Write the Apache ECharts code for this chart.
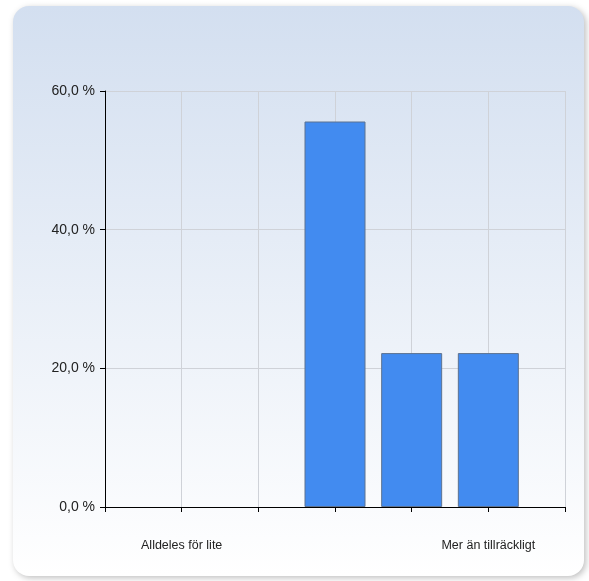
<!DOCTYPE html>
<html>
<head>
<meta charset="utf-8">
<script src="https://cdn.jsdelivr.net/npm/echarts@6/dist/echarts.min.js"></script>
<style>
html,body{margin:0;padding:0;background:#fff;}
#chart{width:589px;height:581px;}
</style>
</head>
<body>
<div id="chart"></div>
<script>
// Data
var categories = ['Alldeles för lite', '', '', '', 'Mer än tillräckligt'];
var values = [0, 0, 55.6, 22.2, 22.2];
var yTicks = [0, 20, 40, 60];

var chart = echarts.init(document.getElementById('chart'), null, {renderer: 'canvas'});
var barData = values.map(function (v, i) {
  var item = {value: [i + 1, v]};
  if (v === 0) item.itemStyle = {borderWidth: 0, color: 'rgba(0,0,0,0)'};
  return item;
});

var option = {
  animation: false,
  backgroundColor: '#ffffff',
  graphic: [{
    type: 'rect',
    left: 13, top: 6,
    shape: {width: 571, height: 570, r: 16},
    style: {
      fill: new echarts.graphic.LinearGradient(0, 0, 0, 1, [
        {offset: 0, color: '#d3dff0'},
        {offset: 1, color: '#ffffff'}
      ]),
      shadowBlur: 6,
      shadowOffsetX: 2,
      shadowOffsetY: 2,
      shadowColor: 'rgba(0,0,0,0.25)'
    },
    z: -10
  }],
  grid: {left: 105, right: 24, top: 91, bottom: 74},
  xAxis: {
    type: 'value',
    min: 0, max: categories.length + 1, interval: 1,
    axisLine: {show: true, lineStyle: {color: '#000', width: 1}},
    axisTick: {show: true, length: 5, lineStyle: {color: '#000'}},
    splitLine: {show: true, lineStyle: {color: '#cfd2d8', width: 1}},
    axisLabel: {
      margin: 32,
      color: '#222',
      fontFamily: 'Liberation Sans, Arial, sans-serif',
      fontSize: 12.5,
      formatter: function (v) {
        var i = Math.round(v) - 1;
        return (i >= 0 && i < categories.length) ? categories[i] : '';
      }
    }
  },
  yAxis: {
    type: 'value',
    min: yTicks[0], max: yTicks[yTicks.length - 1], interval: 20,
    axisLine: {show: true, lineStyle: {color: '#000', width: 1}},
    axisTick: {show: true, length: 5, lineStyle: {color: '#000'}},
    splitLine: {show: true, lineStyle: {color: '#cfd2d8', width: 1}},
    axisLabel: {
      margin: 10,
      color: '#222',
      fontFamily: 'Liberation Sans, Arial, sans-serif',
      fontSize: 14,
      formatter: function (v) { return v.toFixed(1).replace('.', ',') + ' %'; }
    }
  },
  series: [{
    type: 'bar',
    data: barData,
    barWidth: 61,
    itemStyle: {color: '#428bf0', borderColor: '#5d7290', borderWidth: 1}
  }]
};
chart.setOption(option);
</script>
</body>
</html>
